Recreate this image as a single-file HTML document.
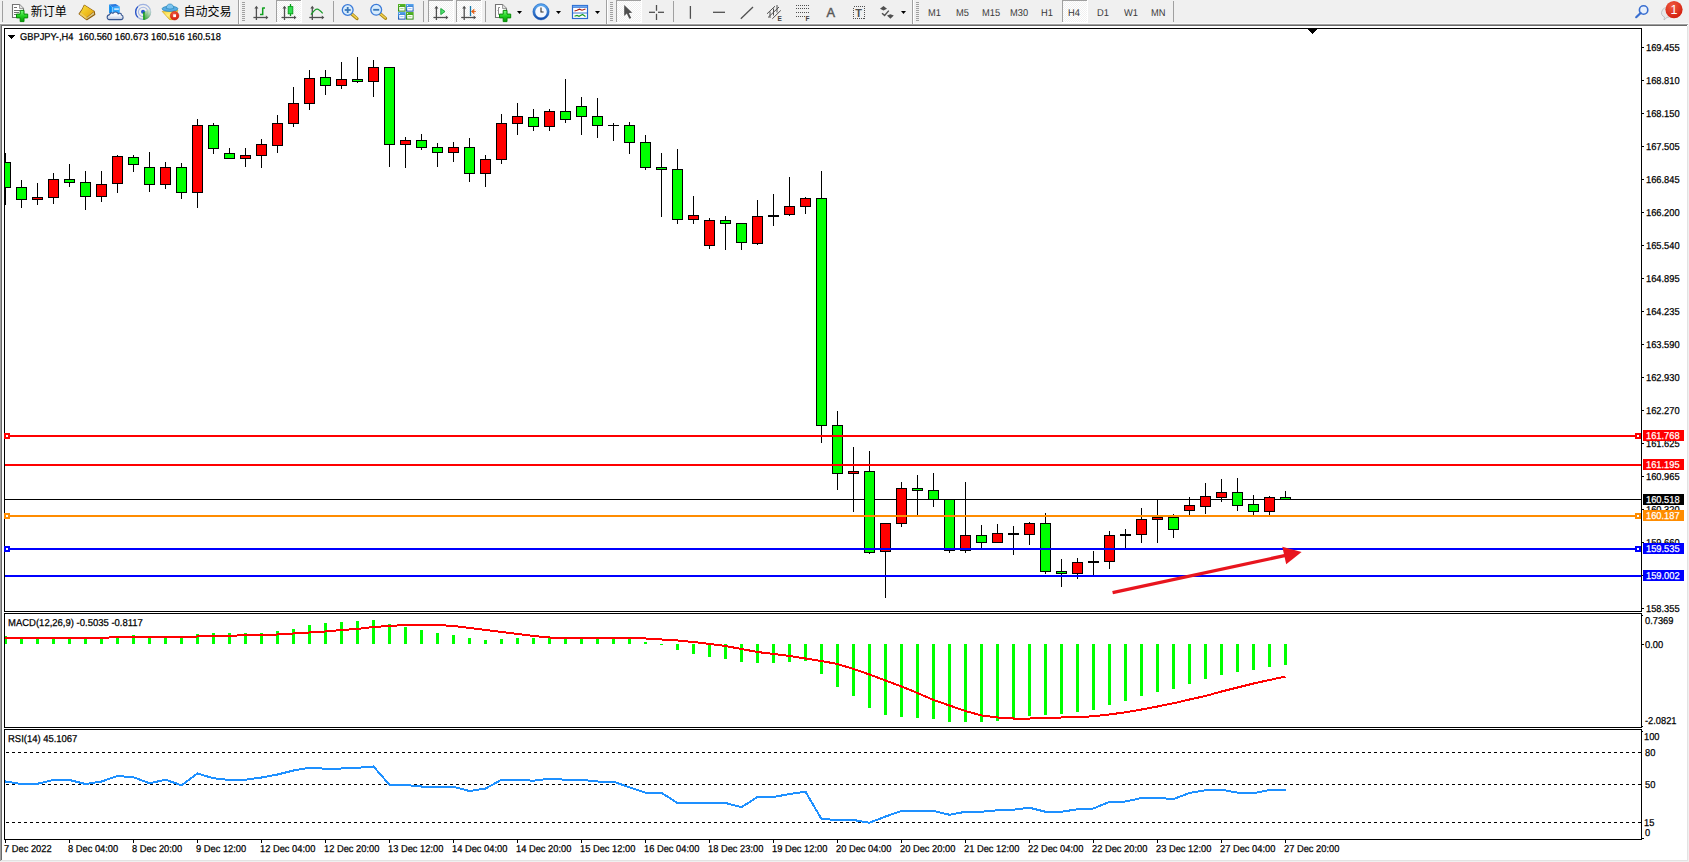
<!DOCTYPE html>
<html><head><meta charset="utf-8"><title>GBPJPY H4</title>
<style>
html,body{margin:0;padding:0;}
body{width:1689px;height:862px;background:#f0f0f0;position:relative;overflow:hidden;font-family:"Liberation Sans","Noto Sans CJK SC",sans-serif;}
.t{position:absolute;white-space:pre;line-height:12px;height:12px;transform-origin:0 0;}
.g{text-rendering:geometricPrecision;}
.c{text-rendering:geometricPrecision;-webkit-text-stroke:0.25px currentColor;}
#win{position:absolute;left:0;top:24px;width:1688px;height:837px;background:#fff;}
#chart{position:absolute;left:0;top:0;}
.z2{z-index:2}
</style></head><body>
<div id="win"></div>
<div style="position:absolute;left:0;top:23px;width:1689px;height:1px;background:#f9f9f9"></div>
<div style="position:absolute;left:0;top:24px;width:1688px;height:1px;background:#a0a0a0"></div>
<div style="position:absolute;left:0;top:25px;width:1687px;height:1px;background:#696969"></div>
<div style="position:absolute;left:0;top:24px;width:1px;height:838px;background:#a0a0a0"></div>
<div style="position:absolute;left:1px;top:25px;width:1px;height:836px;background:#696969"></div>
<div style="position:absolute;left:1687px;top:26px;width:1px;height:835px;background:#e3e3e3"></div>
<div style="position:absolute;left:1688px;top:24px;width:1px;height:838px;background:#f0f0f0"></div>
<div style="position:absolute;left:1px;top:860px;width:1687px;height:1px;background:#e3e3e3"></div>
<div style="position:absolute;left:0px;top:861px;width:1689px;height:1px;background:#f0f0f0"></div>
<div class="t c" style="left:20px;top:31.84px;font-size:10px;color:#000;transform:scaleX(0.93);">GBPJPY-,H4&nbsp; 160.560 160.673 160.516 160.518</div>
<div class="t c" style="left:1646.3px;top:42.83px;font-size:10px;color:#000;transform:scaleX(0.93);">169.455</div>
<div class="t c" style="left:1646.3px;top:75.83px;font-size:10px;color:#000;transform:scaleX(0.93);">168.810</div>
<div class="t c" style="left:1646.3px;top:108.83px;font-size:10px;color:#000;transform:scaleX(0.93);">168.150</div>
<div class="t c" style="left:1646.3px;top:141.84px;font-size:10px;color:#000;transform:scaleX(0.93);">167.505</div>
<div class="t c" style="left:1646.3px;top:174.84px;font-size:10px;color:#000;transform:scaleX(0.93);">166.845</div>
<div class="t c" style="left:1646.3px;top:207.84px;font-size:10px;color:#000;transform:scaleX(0.93);">166.200</div>
<div class="t c" style="left:1646.3px;top:240.84px;font-size:10px;color:#000;transform:scaleX(0.93);">165.540</div>
<div class="t c" style="left:1646.3px;top:273.84px;font-size:10px;color:#000;transform:scaleX(0.93);">164.895</div>
<div class="t c" style="left:1646.3px;top:306.84px;font-size:10px;color:#000;transform:scaleX(0.93);">164.235</div>
<div class="t c" style="left:1646.3px;top:339.84px;font-size:10px;color:#000;transform:scaleX(0.93);">163.590</div>
<div class="t c" style="left:1646.3px;top:372.84px;font-size:10px;color:#000;transform:scaleX(0.93);">162.930</div>
<div class="t c" style="left:1646.3px;top:405.84px;font-size:10px;color:#000;transform:scaleX(0.93);">162.270</div>
<div class="t c" style="left:1646.3px;top:438.84px;font-size:10px;color:#000;transform:scaleX(0.93);">161.625</div>
<div class="t c" style="left:1646.3px;top:471.84px;font-size:10px;color:#000;transform:scaleX(0.93);">160.965</div>
<div class="t c" style="left:1646.3px;top:504.84px;font-size:10px;color:#000;transform:scaleX(0.93);">160.320</div>
<div class="t c" style="left:1646.3px;top:537.83px;font-size:10px;color:#000;transform:scaleX(0.93);">159.660</div>
<div class="t c" style="left:1646.3px;top:570.83px;font-size:10px;color:#000;transform:scaleX(0.93);">159.015</div>
<div class="t c" style="left:1646.3px;top:603.83px;font-size:10px;color:#000;transform:scaleX(0.93);">158.355</div>
<div class="t c" style="left:8.4px;top:617.83px;font-size:10px;color:#000;transform:scaleX(0.949);">MACD(12,26,9) -0.5035 -0.8117</div>
<div class="t c" style="left:8.4px;top:733.83px;font-size:10px;color:#000;transform:scaleX(0.945);">RSI(14) 45.1067</div>
<div class="t c" style="left:1644.6px;top:615.83px;font-size:10px;color:#000;transform:scaleX(0.93);">0.7369</div>
<div class="t c" style="left:1644.6px;top:639.83px;font-size:10px;color:#000;transform:scaleX(0.93);">0.00</div>
<div class="t c" style="left:1644.6px;top:715.83px;font-size:10px;color:#000;transform:scaleX(0.93);">-2.0821</div>
<div class="t c" style="left:1644.2px;top:731.83px;font-size:10px;color:#000;transform:scaleX(0.93);">100</div>
<div class="t c" style="left:1644.6px;top:747.83px;font-size:10px;color:#000;transform:scaleX(0.93);">80</div>
<div class="t c" style="left:1644.6px;top:779.83px;font-size:10px;color:#000;transform:scaleX(0.93);">50</div>
<div class="t c" style="left:1644.2px;top:817.83px;font-size:10px;color:#000;transform:scaleX(0.93);">15</div>
<div class="t c" style="left:1644.6px;top:827.83px;font-size:10px;color:#000;transform:scaleX(0.93);">0</div>
<div class="t c" style="left:4px;top:843.83px;font-size:10px;color:#000;transform:scaleX(0.93);">7 Dec 2022</div>
<div class="t c" style="left:68px;top:843.83px;font-size:10px;color:#000;transform:scaleX(0.93);">8 Dec 04:00</div>
<div class="t c" style="left:132px;top:843.83px;font-size:10px;color:#000;transform:scaleX(0.93);">8 Dec 20:00</div>
<div class="t c" style="left:196px;top:843.83px;font-size:10px;color:#000;transform:scaleX(0.93);">9 Dec 12:00</div>
<div class="t c" style="left:260px;top:843.83px;font-size:10px;color:#000;transform:scaleX(0.93);">12 Dec 04:00</div>
<div class="t c" style="left:324px;top:843.83px;font-size:10px;color:#000;transform:scaleX(0.93);">12 Dec 20:00</div>
<div class="t c" style="left:388px;top:843.83px;font-size:10px;color:#000;transform:scaleX(0.93);">13 Dec 12:00</div>
<div class="t c" style="left:452px;top:843.83px;font-size:10px;color:#000;transform:scaleX(0.93);">14 Dec 04:00</div>
<div class="t c" style="left:516px;top:843.83px;font-size:10px;color:#000;transform:scaleX(0.93);">14 Dec 20:00</div>
<div class="t c" style="left:580px;top:843.83px;font-size:10px;color:#000;transform:scaleX(0.93);">15 Dec 12:00</div>
<div class="t c" style="left:644px;top:843.83px;font-size:10px;color:#000;transform:scaleX(0.93);">16 Dec 04:00</div>
<div class="t c" style="left:708px;top:843.83px;font-size:10px;color:#000;transform:scaleX(0.93);">18 Dec 23:00</div>
<div class="t c" style="left:772px;top:843.83px;font-size:10px;color:#000;transform:scaleX(0.93);">19 Dec 12:00</div>
<div class="t c" style="left:836px;top:843.83px;font-size:10px;color:#000;transform:scaleX(0.93);">20 Dec 04:00</div>
<div class="t c" style="left:900px;top:843.83px;font-size:10px;color:#000;transform:scaleX(0.93);">20 Dec 20:00</div>
<div class="t c" style="left:964px;top:843.83px;font-size:10px;color:#000;transform:scaleX(0.93);">21 Dec 12:00</div>
<div class="t c" style="left:1028px;top:843.83px;font-size:10px;color:#000;transform:scaleX(0.93);">22 Dec 04:00</div>
<div class="t c" style="left:1092px;top:843.83px;font-size:10px;color:#000;transform:scaleX(0.93);">22 Dec 20:00</div>
<div class="t c" style="left:1156px;top:843.83px;font-size:10px;color:#000;transform:scaleX(0.93);">23 Dec 12:00</div>
<div class="t c" style="left:1220px;top:843.83px;font-size:10px;color:#000;transform:scaleX(0.93);">27 Dec 04:00</div>
<div class="t c" style="left:1284px;top:843.83px;font-size:10px;color:#000;transform:scaleX(0.93);">27 Dec 20:00</div>
<svg id="chart" width="1689" height="862" viewBox="0 0 1689 862" shape-rendering="crispEdges">
<rect x="4" y="28" width="1638" height="1" fill="#000"/>
<rect x="4" y="611" width="1638" height="1" fill="#000"/>
<rect x="4" y="28" width="1" height="584" fill="#000"/>
<rect x="1641" y="28" width="1" height="584" fill="#000"/>
<rect x="4" y="613" width="1638" height="1" fill="#000"/>
<rect x="4" y="727" width="1638" height="1" fill="#000"/>
<rect x="4" y="613" width="1" height="115" fill="#000"/>
<rect x="1641" y="613" width="1" height="115" fill="#000"/>
<rect x="4" y="729" width="1638" height="1" fill="#000"/>
<rect x="4" y="839" width="1638" height="1" fill="#000"/>
<rect x="4" y="729" width="1" height="111" fill="#000"/>
<rect x="1641" y="729" width="1" height="111" fill="#000"/>
<polygon points="1307.5,29 1317.5,29 1312.5,34" fill="#000"/>
<polygon points="7.5,35 15.5,35 11.5,39" fill="#000"/>
<clipPath id="cm"><rect x="5" y="29" width="1636" height="582"/></clipPath>
<rect x="5" y="499" width="1636" height="1" fill="#000"/>
<g clip-path="url(#cm)">
<rect x="5" y="153" width="1" height="52" fill="#000"/>
<rect x="0" y="162" width="11" height="26" fill="#000"/>
<rect x="1" y="163" width="9" height="24" fill="#00ff00"/>
<rect x="21" y="180" width="1" height="28" fill="#000"/>
<rect x="16" y="187" width="11" height="13" fill="#000"/>
<rect x="17" y="188" width="9" height="11" fill="#00ff00"/>
<rect x="37" y="183" width="1" height="22" fill="#000"/>
<rect x="32" y="197" width="11" height="3" fill="#000"/>
<rect x="33" y="198" width="9" height="1" fill="#ff0000"/>
<rect x="53" y="173" width="1" height="31" fill="#000"/>
<rect x="48" y="179" width="11" height="19" fill="#000"/>
<rect x="49" y="180" width="9" height="17" fill="#ff0000"/>
<rect x="69" y="164" width="1" height="23" fill="#000"/>
<rect x="64" y="179" width="11" height="4" fill="#000"/>
<rect x="65" y="180" width="9" height="2" fill="#00ff00"/>
<rect x="85" y="171" width="1" height="39" fill="#000"/>
<rect x="80" y="182" width="11" height="15" fill="#000"/>
<rect x="81" y="183" width="9" height="13" fill="#00ff00"/>
<rect x="101" y="171" width="1" height="31" fill="#000"/>
<rect x="96" y="184" width="11" height="13" fill="#000"/>
<rect x="97" y="185" width="9" height="11" fill="#ff0000"/>
<rect x="117" y="155" width="1" height="38" fill="#000"/>
<rect x="112" y="156" width="11" height="28" fill="#000"/>
<rect x="113" y="157" width="9" height="26" fill="#ff0000"/>
<rect x="133" y="155" width="1" height="17" fill="#000"/>
<rect x="128" y="157" width="11" height="8" fill="#000"/>
<rect x="129" y="158" width="9" height="6" fill="#00ff00"/>
<rect x="149" y="152" width="1" height="40" fill="#000"/>
<rect x="144" y="167" width="11" height="18" fill="#000"/>
<rect x="145" y="168" width="9" height="16" fill="#00ff00"/>
<rect x="165" y="162" width="1" height="27" fill="#000"/>
<rect x="160" y="167" width="11" height="18" fill="#000"/>
<rect x="161" y="168" width="9" height="16" fill="#ff0000"/>
<rect x="181" y="163" width="1" height="36" fill="#000"/>
<rect x="176" y="167" width="11" height="26" fill="#000"/>
<rect x="177" y="168" width="9" height="24" fill="#00ff00"/>
<rect x="197" y="119" width="1" height="89" fill="#000"/>
<rect x="192" y="125" width="11" height="68" fill="#000"/>
<rect x="193" y="126" width="9" height="66" fill="#ff0000"/>
<rect x="213" y="123" width="1" height="31" fill="#000"/>
<rect x="208" y="125" width="11" height="24" fill="#000"/>
<rect x="209" y="126" width="9" height="22" fill="#00ff00"/>
<rect x="229" y="148" width="1" height="11" fill="#000"/>
<rect x="224" y="153" width="11" height="6" fill="#000"/>
<rect x="225" y="154" width="9" height="4" fill="#00ff00"/>
<rect x="245" y="148" width="1" height="19" fill="#000"/>
<rect x="240" y="155" width="11" height="4" fill="#000"/>
<rect x="241" y="156" width="9" height="2" fill="#ff0000"/>
<rect x="261" y="139" width="1" height="29" fill="#000"/>
<rect x="256" y="144" width="11" height="12" fill="#000"/>
<rect x="257" y="145" width="9" height="10" fill="#ff0000"/>
<rect x="277" y="115" width="1" height="38" fill="#000"/>
<rect x="272" y="123" width="11" height="23" fill="#000"/>
<rect x="273" y="124" width="9" height="21" fill="#ff0000"/>
<rect x="293" y="87" width="1" height="40" fill="#000"/>
<rect x="288" y="103" width="11" height="21" fill="#000"/>
<rect x="289" y="104" width="9" height="19" fill="#ff0000"/>
<rect x="309" y="70" width="1" height="40" fill="#000"/>
<rect x="304" y="78" width="11" height="26" fill="#000"/>
<rect x="305" y="79" width="9" height="24" fill="#ff0000"/>
<rect x="325" y="70" width="1" height="25" fill="#000"/>
<rect x="320" y="77" width="11" height="9" fill="#000"/>
<rect x="321" y="78" width="9" height="7" fill="#00ff00"/>
<rect x="341" y="62" width="1" height="27" fill="#000"/>
<rect x="336" y="79" width="11" height="7" fill="#000"/>
<rect x="337" y="80" width="9" height="5" fill="#ff0000"/>
<rect x="357" y="57" width="1" height="26" fill="#000"/>
<rect x="352" y="79" width="11" height="3" fill="#000"/>
<rect x="353" y="80" width="9" height="1" fill="#00ff00"/>
<rect x="373" y="60" width="1" height="37" fill="#000"/>
<rect x="368" y="67" width="11" height="15" fill="#000"/>
<rect x="369" y="68" width="9" height="13" fill="#ff0000"/>
<rect x="389" y="67" width="1" height="100" fill="#000"/>
<rect x="384" y="67" width="11" height="78" fill="#000"/>
<rect x="385" y="68" width="9" height="76" fill="#00ff00"/>
<rect x="405" y="137" width="1" height="31" fill="#000"/>
<rect x="400" y="140" width="11" height="5" fill="#000"/>
<rect x="401" y="141" width="9" height="3" fill="#ff0000"/>
<rect x="421" y="134" width="1" height="16" fill="#000"/>
<rect x="416" y="140" width="11" height="8" fill="#000"/>
<rect x="417" y="141" width="9" height="6" fill="#00ff00"/>
<rect x="437" y="143" width="1" height="24" fill="#000"/>
<rect x="432" y="147" width="11" height="6" fill="#000"/>
<rect x="433" y="148" width="9" height="4" fill="#00ff00"/>
<rect x="453" y="142" width="1" height="20" fill="#000"/>
<rect x="448" y="147" width="11" height="6" fill="#000"/>
<rect x="449" y="148" width="9" height="4" fill="#ff0000"/>
<rect x="469" y="138" width="1" height="44" fill="#000"/>
<rect x="464" y="147" width="11" height="27" fill="#000"/>
<rect x="465" y="148" width="9" height="25" fill="#00ff00"/>
<rect x="485" y="155" width="1" height="32" fill="#000"/>
<rect x="480" y="159" width="11" height="15" fill="#000"/>
<rect x="481" y="160" width="9" height="13" fill="#ff0000"/>
<rect x="501" y="114" width="1" height="50" fill="#000"/>
<rect x="496" y="123" width="11" height="37" fill="#000"/>
<rect x="497" y="124" width="9" height="35" fill="#ff0000"/>
<rect x="517" y="103" width="1" height="32" fill="#000"/>
<rect x="512" y="116" width="11" height="8" fill="#000"/>
<rect x="513" y="117" width="9" height="6" fill="#ff0000"/>
<rect x="533" y="109" width="1" height="22" fill="#000"/>
<rect x="528" y="117" width="11" height="10" fill="#000"/>
<rect x="529" y="118" width="9" height="8" fill="#00ff00"/>
<rect x="549" y="109" width="1" height="22" fill="#000"/>
<rect x="544" y="111" width="11" height="16" fill="#000"/>
<rect x="545" y="112" width="9" height="14" fill="#ff0000"/>
<rect x="565" y="79" width="1" height="44" fill="#000"/>
<rect x="560" y="111" width="11" height="9" fill="#000"/>
<rect x="561" y="112" width="9" height="7" fill="#00ff00"/>
<rect x="581" y="97" width="1" height="38" fill="#000"/>
<rect x="576" y="106" width="11" height="11" fill="#000"/>
<rect x="577" y="107" width="9" height="9" fill="#00ff00"/>
<rect x="597" y="98" width="1" height="40" fill="#000"/>
<rect x="592" y="116" width="11" height="10" fill="#000"/>
<rect x="593" y="117" width="9" height="8" fill="#00ff00"/>
<rect x="613" y="123" width="1" height="18" fill="#000"/>
<rect x="608" y="125" width="11" height="1" fill="#000"/>
<rect x="629" y="122" width="1" height="32" fill="#000"/>
<rect x="624" y="125" width="11" height="18" fill="#000"/>
<rect x="625" y="126" width="9" height="16" fill="#00ff00"/>
<rect x="645" y="135" width="1" height="35" fill="#000"/>
<rect x="640" y="142" width="11" height="26" fill="#000"/>
<rect x="641" y="143" width="9" height="24" fill="#00ff00"/>
<rect x="661" y="153" width="1" height="64" fill="#000"/>
<rect x="656" y="167" width="11" height="3" fill="#000"/>
<rect x="657" y="168" width="9" height="1" fill="#00ff00"/>
<rect x="677" y="149" width="1" height="75" fill="#000"/>
<rect x="672" y="169" width="11" height="51" fill="#000"/>
<rect x="673" y="170" width="9" height="49" fill="#00ff00"/>
<rect x="693" y="196" width="1" height="28" fill="#000"/>
<rect x="688" y="215" width="11" height="5" fill="#000"/>
<rect x="689" y="216" width="9" height="3" fill="#ff0000"/>
<rect x="709" y="218" width="1" height="31" fill="#000"/>
<rect x="704" y="220" width="11" height="26" fill="#000"/>
<rect x="705" y="221" width="9" height="24" fill="#ff0000"/>
<rect x="725" y="216" width="1" height="34" fill="#000"/>
<rect x="720" y="220" width="11" height="4" fill="#000"/>
<rect x="721" y="221" width="9" height="2" fill="#00ff00"/>
<rect x="741" y="223" width="1" height="27" fill="#000"/>
<rect x="736" y="223" width="11" height="20" fill="#000"/>
<rect x="737" y="224" width="9" height="18" fill="#00ff00"/>
<rect x="757" y="200" width="1" height="45" fill="#000"/>
<rect x="752" y="216" width="11" height="28" fill="#000"/>
<rect x="753" y="217" width="9" height="26" fill="#ff0000"/>
<rect x="773" y="194" width="1" height="32" fill="#000"/>
<rect x="768" y="215" width="11" height="2" fill="#000"/>
<rect x="789" y="177" width="1" height="39" fill="#000"/>
<rect x="784" y="206" width="11" height="9" fill="#000"/>
<rect x="785" y="207" width="9" height="7" fill="#ff0000"/>
<rect x="805" y="197" width="1" height="17" fill="#000"/>
<rect x="800" y="198" width="11" height="9" fill="#000"/>
<rect x="801" y="199" width="9" height="7" fill="#ff0000"/>
<rect x="821" y="171" width="1" height="272" fill="#000"/>
<rect x="816" y="198" width="11" height="228" fill="#000"/>
<rect x="817" y="199" width="9" height="226" fill="#00ff00"/>
<rect x="837" y="411" width="1" height="79" fill="#000"/>
<rect x="832" y="425" width="11" height="49" fill="#000"/>
<rect x="833" y="426" width="9" height="47" fill="#00ff00"/>
<rect x="853" y="447" width="1" height="65" fill="#000"/>
<rect x="848" y="471" width="11" height="3" fill="#000"/>
<rect x="849" y="472" width="9" height="1" fill="#ff0000"/>
<rect x="869" y="451" width="1" height="103" fill="#000"/>
<rect x="864" y="471" width="11" height="82" fill="#000"/>
<rect x="865" y="472" width="9" height="80" fill="#00ff00"/>
<rect x="885" y="523" width="1" height="75" fill="#000"/>
<rect x="880" y="523" width="11" height="29" fill="#000"/>
<rect x="881" y="524" width="9" height="27" fill="#ff0000"/>
<rect x="901" y="482" width="1" height="45" fill="#000"/>
<rect x="896" y="488" width="11" height="36" fill="#000"/>
<rect x="897" y="489" width="9" height="34" fill="#ff0000"/>
<rect x="917" y="475" width="1" height="40" fill="#000"/>
<rect x="912" y="488" width="11" height="3" fill="#000"/>
<rect x="913" y="489" width="9" height="1" fill="#00ff00"/>
<rect x="933" y="473" width="1" height="34" fill="#000"/>
<rect x="928" y="490" width="11" height="10" fill="#000"/>
<rect x="929" y="491" width="9" height="8" fill="#00ff00"/>
<rect x="949" y="499" width="1" height="54" fill="#000"/>
<rect x="944" y="499" width="11" height="52" fill="#000"/>
<rect x="945" y="500" width="9" height="50" fill="#00ff00"/>
<rect x="965" y="482" width="1" height="71" fill="#000"/>
<rect x="960" y="535" width="11" height="16" fill="#000"/>
<rect x="961" y="536" width="9" height="14" fill="#ff0000"/>
<rect x="981" y="525" width="1" height="23" fill="#000"/>
<rect x="976" y="535" width="11" height="8" fill="#000"/>
<rect x="977" y="536" width="9" height="6" fill="#00ff00"/>
<rect x="997" y="524" width="1" height="19" fill="#000"/>
<rect x="992" y="533" width="11" height="10" fill="#000"/>
<rect x="993" y="534" width="9" height="8" fill="#ff0000"/>
<rect x="1013" y="526" width="1" height="29" fill="#000"/>
<rect x="1008" y="533" width="11" height="2" fill="#000"/>
<rect x="1029" y="522" width="1" height="23" fill="#000"/>
<rect x="1024" y="523" width="11" height="12" fill="#000"/>
<rect x="1025" y="524" width="9" height="10" fill="#ff0000"/>
<rect x="1045" y="513" width="1" height="61" fill="#000"/>
<rect x="1040" y="523" width="11" height="49" fill="#000"/>
<rect x="1041" y="524" width="9" height="47" fill="#00ff00"/>
<rect x="1061" y="559" width="1" height="28" fill="#000"/>
<rect x="1056" y="571" width="11" height="3" fill="#000"/>
<rect x="1057" y="572" width="9" height="1" fill="#00ff00"/>
<rect x="1077" y="558" width="1" height="21" fill="#000"/>
<rect x="1072" y="562" width="11" height="12" fill="#000"/>
<rect x="1073" y="563" width="9" height="10" fill="#ff0000"/>
<rect x="1093" y="551" width="1" height="24" fill="#000"/>
<rect x="1088" y="561" width="11" height="2" fill="#000"/>
<rect x="1109" y="531" width="1" height="38" fill="#000"/>
<rect x="1104" y="535" width="11" height="27" fill="#000"/>
<rect x="1105" y="536" width="9" height="25" fill="#ff0000"/>
<rect x="1125" y="529" width="1" height="19" fill="#000"/>
<rect x="1120" y="534" width="11" height="2" fill="#000"/>
<rect x="1141" y="508" width="1" height="35" fill="#000"/>
<rect x="1136" y="519" width="11" height="16" fill="#000"/>
<rect x="1137" y="520" width="9" height="14" fill="#ff0000"/>
<rect x="1157" y="499" width="1" height="44" fill="#000"/>
<rect x="1152" y="517" width="11" height="3" fill="#000"/>
<rect x="1153" y="518" width="9" height="1" fill="#ff0000"/>
<rect x="1173" y="514" width="1" height="24" fill="#000"/>
<rect x="1168" y="517" width="11" height="13" fill="#000"/>
<rect x="1169" y="518" width="9" height="11" fill="#00ff00"/>
<rect x="1189" y="497" width="1" height="18" fill="#000"/>
<rect x="1184" y="505" width="11" height="6" fill="#000"/>
<rect x="1185" y="506" width="9" height="4" fill="#ff0000"/>
<rect x="1205" y="483" width="1" height="31" fill="#000"/>
<rect x="1200" y="496" width="11" height="11" fill="#000"/>
<rect x="1201" y="497" width="9" height="9" fill="#ff0000"/>
<rect x="1221" y="479" width="1" height="23" fill="#000"/>
<rect x="1216" y="492" width="11" height="6" fill="#000"/>
<rect x="1217" y="493" width="9" height="4" fill="#ff0000"/>
<rect x="1237" y="478" width="1" height="33" fill="#000"/>
<rect x="1232" y="492" width="11" height="14" fill="#000"/>
<rect x="1233" y="493" width="9" height="12" fill="#00ff00"/>
<rect x="1253" y="495" width="1" height="20" fill="#000"/>
<rect x="1248" y="504" width="11" height="8" fill="#000"/>
<rect x="1249" y="505" width="9" height="6" fill="#00ff00"/>
<rect x="1269" y="496" width="1" height="19" fill="#000"/>
<rect x="1264" y="497" width="11" height="15" fill="#000"/>
<rect x="1265" y="498" width="9" height="13" fill="#ff0000"/>
<rect x="1285" y="491" width="1" height="9" fill="#000"/>
<rect x="1280" y="497" width="11" height="3" fill="#000"/>
<rect x="1281" y="498" width="9" height="1" fill="#00ff00"/>
</g>
<rect x="5" y="435" width="1636" height="2" fill="#ff0000"/>
<rect x="4" y="433" width="6" height="6" fill="#ff0000"/><rect x="6" y="435" width="2" height="2" fill="#fff"/>
<rect x="1635" y="433" width="6" height="6" fill="#ff0000"/><rect x="1637" y="435" width="2" height="2" fill="#fff"/>
<rect x="5" y="464" width="1636" height="2" fill="#ff0000"/>
<rect x="5" y="515" width="1636" height="2" fill="#ff8c00"/>
<rect x="4" y="513" width="6" height="6" fill="#ff8c00"/><rect x="6" y="515" width="2" height="2" fill="#fff"/>
<rect x="1635" y="513" width="6" height="6" fill="#ff8c00"/><rect x="1637" y="515" width="2" height="2" fill="#fff"/>
<rect x="5" y="548" width="1636" height="2" fill="#0000ff"/>
<rect x="4" y="546" width="6" height="6" fill="#0000ff"/><rect x="6" y="548" width="2" height="2" fill="#fff"/>
<rect x="1635" y="546" width="6" height="6" fill="#0000ff"/><rect x="1637" y="548" width="2" height="2" fill="#fff"/>
<rect x="5" y="575" width="1636" height="2" fill="#0000ff"/>
<g shape-rendering="auto"><line x1="1112.6" y1="592.6" x2="1288" y2="554.9" stroke="#e8151e" stroke-width="3.3"/><polygon points="1301.6,552 1282.3,546.8 1286.2,564.3" fill="#e8151e"/></g>
<rect x="1642" y="47" width="2" height="1" fill="#000"/>
<rect x="1642" y="80" width="2" height="1" fill="#000"/>
<rect x="1642" y="113" width="2" height="1" fill="#000"/>
<rect x="1642" y="146" width="2" height="1" fill="#000"/>
<rect x="1642" y="179" width="2" height="1" fill="#000"/>
<rect x="1642" y="212" width="2" height="1" fill="#000"/>
<rect x="1642" y="245" width="2" height="1" fill="#000"/>
<rect x="1642" y="278" width="2" height="1" fill="#000"/>
<rect x="1642" y="311" width="2" height="1" fill="#000"/>
<rect x="1642" y="344" width="2" height="1" fill="#000"/>
<rect x="1642" y="377" width="2" height="1" fill="#000"/>
<rect x="1642" y="410" width="2" height="1" fill="#000"/>
<rect x="1642" y="443" width="2" height="1" fill="#000"/>
<rect x="1642" y="476" width="2" height="1" fill="#000"/>
<rect x="1642" y="509" width="2" height="1" fill="#000"/>
<rect x="1642" y="542" width="2" height="1" fill="#000"/>
<rect x="1642" y="575" width="2" height="1" fill="#000"/>
<rect x="1642" y="608" width="2" height="1" fill="#000"/>
<rect x="5" y="636" width="2" height="8" fill="#00ff00"/>
<rect x="20" y="638" width="3" height="6" fill="#00ff00"/>
<rect x="36" y="638" width="3" height="6" fill="#00ff00"/>
<rect x="52" y="638" width="3" height="6" fill="#00ff00"/>
<rect x="68" y="638" width="3" height="6" fill="#00ff00"/>
<rect x="84" y="638" width="3" height="6" fill="#00ff00"/>
<rect x="100" y="637" width="3" height="7" fill="#00ff00"/>
<rect x="116" y="637" width="3" height="7" fill="#00ff00"/>
<rect x="132" y="635" width="3" height="9" fill="#00ff00"/>
<rect x="148" y="637" width="3" height="7" fill="#00ff00"/>
<rect x="164" y="637" width="3" height="7" fill="#00ff00"/>
<rect x="180" y="637" width="3" height="7" fill="#00ff00"/>
<rect x="196" y="634" width="3" height="10" fill="#00ff00"/>
<rect x="212" y="633" width="3" height="11" fill="#00ff00"/>
<rect x="228" y="633" width="3" height="11" fill="#00ff00"/>
<rect x="244" y="633" width="3" height="11" fill="#00ff00"/>
<rect x="260" y="633" width="3" height="11" fill="#00ff00"/>
<rect x="276" y="631" width="3" height="13" fill="#00ff00"/>
<rect x="292" y="629" width="3" height="15" fill="#00ff00"/>
<rect x="308" y="625" width="3" height="19" fill="#00ff00"/>
<rect x="324" y="623" width="3" height="21" fill="#00ff00"/>
<rect x="340" y="622" width="3" height="22" fill="#00ff00"/>
<rect x="356" y="621" width="3" height="23" fill="#00ff00"/>
<rect x="372" y="620" width="3" height="24" fill="#00ff00"/>
<rect x="388" y="624" width="3" height="20" fill="#00ff00"/>
<rect x="404" y="627" width="3" height="17" fill="#00ff00"/>
<rect x="420" y="630" width="3" height="14" fill="#00ff00"/>
<rect x="436" y="633" width="3" height="11" fill="#00ff00"/>
<rect x="452" y="635" width="3" height="9" fill="#00ff00"/>
<rect x="468" y="638" width="3" height="6" fill="#00ff00"/>
<rect x="484" y="640" width="3" height="4" fill="#00ff00"/>
<rect x="500" y="639" width="3" height="5" fill="#00ff00"/>
<rect x="516" y="638" width="3" height="6" fill="#00ff00"/>
<rect x="532" y="638" width="3" height="6" fill="#00ff00"/>
<rect x="548" y="638" width="3" height="6" fill="#00ff00"/>
<rect x="564" y="638" width="3" height="6" fill="#00ff00"/>
<rect x="580" y="638" width="3" height="6" fill="#00ff00"/>
<rect x="596" y="638" width="3" height="6" fill="#00ff00"/>
<rect x="612" y="638" width="3" height="6" fill="#00ff00"/>
<rect x="628" y="638" width="3" height="6" fill="#00ff00"/>
<rect x="644" y="642" width="3" height="2" fill="#00ff00"/>
<rect x="660" y="644" width="3" height="1" fill="#00ff00"/>
<rect x="676" y="644" width="3" height="6" fill="#00ff00"/>
<rect x="692" y="644" width="3" height="10" fill="#00ff00"/>
<rect x="708" y="644" width="3" height="13" fill="#00ff00"/>
<rect x="724" y="644" width="3" height="15" fill="#00ff00"/>
<rect x="740" y="644" width="3" height="18" fill="#00ff00"/>
<rect x="756" y="644" width="3" height="19" fill="#00ff00"/>
<rect x="772" y="644" width="3" height="19" fill="#00ff00"/>
<rect x="788" y="644" width="3" height="18" fill="#00ff00"/>
<rect x="804" y="644" width="3" height="17" fill="#00ff00"/>
<rect x="820" y="644" width="3" height="30" fill="#00ff00"/>
<rect x="836" y="644" width="3" height="43" fill="#00ff00"/>
<rect x="852" y="644" width="3" height="52" fill="#00ff00"/>
<rect x="868" y="644" width="3" height="64" fill="#00ff00"/>
<rect x="884" y="644" width="3" height="71" fill="#00ff00"/>
<rect x="900" y="644" width="3" height="73" fill="#00ff00"/>
<rect x="916" y="644" width="3" height="74" fill="#00ff00"/>
<rect x="932" y="644" width="3" height="75" fill="#00ff00"/>
<rect x="948" y="644" width="3" height="78" fill="#00ff00"/>
<rect x="964" y="644" width="3" height="78" fill="#00ff00"/>
<rect x="980" y="644" width="3" height="78" fill="#00ff00"/>
<rect x="996" y="644" width="3" height="77" fill="#00ff00"/>
<rect x="1012" y="644" width="3" height="75" fill="#00ff00"/>
<rect x="1028" y="644" width="3" height="72" fill="#00ff00"/>
<rect x="1044" y="644" width="3" height="71" fill="#00ff00"/>
<rect x="1060" y="644" width="3" height="70" fill="#00ff00"/>
<rect x="1076" y="644" width="3" height="68" fill="#00ff00"/>
<rect x="1092" y="644" width="3" height="66" fill="#00ff00"/>
<rect x="1108" y="644" width="3" height="61" fill="#00ff00"/>
<rect x="1124" y="644" width="3" height="57" fill="#00ff00"/>
<rect x="1140" y="644" width="3" height="52" fill="#00ff00"/>
<rect x="1156" y="644" width="3" height="48" fill="#00ff00"/>
<rect x="1172" y="644" width="3" height="45" fill="#00ff00"/>
<rect x="1188" y="644" width="3" height="40" fill="#00ff00"/>
<rect x="1204" y="644" width="3" height="35" fill="#00ff00"/>
<rect x="1220" y="644" width="3" height="31" fill="#00ff00"/>
<rect x="1236" y="644" width="3" height="28" fill="#00ff00"/>
<rect x="1252" y="644" width="3" height="26" fill="#00ff00"/>
<rect x="1268" y="644" width="3" height="23" fill="#00ff00"/>
<rect x="1284" y="644" width="3" height="21" fill="#00ff00"/>
<polyline points="5,638 5.5,638 21.5,638 37.5,638 53.5,638 69.5,638 85.5,638 101.5,638 117.5,637 133.5,637 149.5,637 165.5,637 181.5,637 197.5,636.5 213.5,636 229.5,636 245.5,635 261.5,635 277.5,634.5 293.5,633.5 309.5,632.5 325.5,631.5 341.5,630 357.5,629 373.5,627 389.5,626 405.5,625 421.5,625 437.5,625 453.5,626 469.5,628 485.5,630 501.5,632 517.5,634 533.5,636 549.5,637.5 565.5,638 581.5,638 597.5,638 613.5,638 629.5,638 645.5,638.5 661.5,639.5 677.5,640.5 693.5,642 709.5,644 725.5,646 741.5,649 757.5,652 773.5,654 789.5,656 805.5,658.5 821.5,661 837.5,664 853.5,669 869.5,674.5 885.5,680.5 901.5,686.5 917.5,693 933.5,700 949.5,705.5 965.5,711 981.5,715.5 997.5,717.5 1013.5,718.5 1029.5,718.5 1045.5,718.25 1061.5,717.5 1077.5,717.25 1093.5,716.25 1109.5,714.5 1125.5,712.25 1141.5,709.5 1157.5,706.5 1173.5,703.25 1189.5,699.5 1205.5,696 1221.5,691.5 1237.5,687.5 1253.5,683.5 1269.5,680 1285.5,676.5" fill="none" stroke="#ff0000" stroke-width="2" shape-rendering="crispEdges"/>
<rect x="1642" y="644" width="2" height="1" fill="#000"/>
<rect x="1642" y="615" width="1" height="1" fill="#000"/>
<rect x="1642" y="726" width="1" height="1" fill="#000"/>
 <line x1="6" y1="752.5" x2="1641" y2="752.5" stroke="#000" stroke-width="1" stroke-dasharray="3,3"/>
 <line x1="6" y1="784.5" x2="1641" y2="784.5" stroke="#000" stroke-width="1" stroke-dasharray="3,3"/>
 <line x1="6" y1="822.5" x2="1641" y2="822.5" stroke="#000" stroke-width="1" stroke-dasharray="3,3"/>
<polyline points="5,781.1 5.5,781.5 21.5,784 37.5,783.75 53.5,780 69.5,780 85.5,784 101.5,781.5 117.5,776 133.5,777.25 149.5,783.25 165.5,779.75 181.5,785.25 197.5,773.5 213.5,778.25 229.5,780 245.5,779.75 261.5,777.5 277.5,774.5 293.5,770.5 309.5,767.75 325.5,768.75 341.5,768.5 357.5,767.75 373.5,766.5 389.5,784.75 405.5,785 421.5,786.5 437.5,786.5 453.5,786.75 469.5,791 485.5,788.5 501.5,779.75 517.5,779.75 533.5,780.75 549.5,778.75 565.5,779.75 581.5,779.75 597.5,781.5 613.5,781.75 629.5,787.25 645.5,792.75 661.5,792.75 677.5,803 693.5,803 709.5,803 725.5,803 741.5,807.25 757.5,797 773.5,797 789.5,794 805.5,791.75 821.5,819 837.5,820 853.5,820 869.5,822.75 885.5,816.5 901.5,811 917.5,811 933.5,811 949.5,814.75 965.5,811.75 981.5,811.75 997.5,810.25 1013.5,809.75 1029.5,807.75 1045.5,811.75 1061.5,811.75 1077.5,809.25 1093.5,808.5 1109.5,801.75 1125.5,801.5 1141.5,798 1157.5,798 1173.5,799 1189.5,793 1205.5,790.25 1221.5,789.75 1237.5,792.6 1253.5,793.2 1269.5,790 1285.5,790" fill="none" stroke="#1e90ff" stroke-width="2" shape-rendering="crispEdges"/>
<rect x="1642" y="731" width="1" height="1" fill="#000"/>
<rect x="1642" y="838" width="2" height="1" fill="#000"/>
<rect x="5" y="840" width="1" height="3" fill="#000"/>
<rect x="69" y="840" width="1" height="3" fill="#000"/>
<rect x="133" y="840" width="1" height="3" fill="#000"/>
<rect x="197" y="840" width="1" height="3" fill="#000"/>
<rect x="261" y="840" width="1" height="3" fill="#000"/>
<rect x="325" y="840" width="1" height="3" fill="#000"/>
<rect x="389" y="840" width="1" height="3" fill="#000"/>
<rect x="453" y="840" width="1" height="3" fill="#000"/>
<rect x="517" y="840" width="1" height="3" fill="#000"/>
<rect x="581" y="840" width="1" height="3" fill="#000"/>
<rect x="645" y="840" width="1" height="3" fill="#000"/>
<rect x="709" y="840" width="1" height="3" fill="#000"/>
<rect x="773" y="840" width="1" height="3" fill="#000"/>
<rect x="837" y="840" width="1" height="3" fill="#000"/>
<rect x="901" y="840" width="1" height="3" fill="#000"/>
<rect x="965" y="840" width="1" height="3" fill="#000"/>
<rect x="1029" y="840" width="1" height="3" fill="#000"/>
<rect x="1093" y="840" width="1" height="3" fill="#000"/>
<rect x="1157" y="840" width="1" height="3" fill="#000"/>
<rect x="1221" y="840" width="1" height="3" fill="#000"/>
<rect x="1285" y="840" width="1" height="3" fill="#000"/>
<rect x="1643" y="430" width="41" height="11" fill="#ff0000"/>
<rect x="1643" y="459" width="41" height="11" fill="#ff0000"/>
<rect x="1643" y="494" width="41" height="11" fill="#000"/>
<rect x="1643" y="510" width="41" height="11" fill="#ff8c00"/>
<rect x="1643" y="543" width="41" height="11" fill="#0000ff"/>
<rect x="1643" y="570" width="41" height="11" fill="#0000ff"/>
</svg>
<div class="t c" style="left:1646.3px;top:430.84px;font-size:10px;color:#fff;transform:scaleX(0.93);">161.768</div>
<div class="t c" style="left:1646.3px;top:459.84px;font-size:10px;color:#fff;transform:scaleX(0.93);">161.195</div>
<div class="t c" style="left:1646.3px;top:494.84px;font-size:10px;color:#fff;transform:scaleX(0.93);">160.518</div>
<div class="t c" style="left:1646.3px;top:510.84px;font-size:10px;color:#fff;transform:scaleX(0.93);">160.187</div>
<div class="t c" style="left:1646.3px;top:543.83px;font-size:10px;color:#fff;transform:scaleX(0.93);">159.535</div>
<div class="t c" style="left:1646.3px;top:570.83px;font-size:10px;color:#fff;transform:scaleX(0.93);">159.002</div>
<svg id="tb" style="position:absolute;left:0;top:0" width="1689" height="24" viewBox="0 0 1689 24">
<defs><pattern id="dith" width="2" height="2" patternUnits="userSpaceOnUse"><rect width="2" height="2" fill="#fff"/><rect width="1" height="1" fill="#f0f0f0"/><rect x="1" y="1" width="1" height="1" fill="#f0f0f0"/></pattern><linearGradient id="gplus" x1="0" y1="0" x2="0" y2="1"><stop offset="0" stop-color="#7dff7d"/><stop offset="0.5" stop-color="#22d022"/><stop offset="1" stop-color="#079a07"/></linearGradient><linearGradient id="gbook" x1="0" y1="0" x2="1" y2="1"><stop offset="0" stop-color="#f8e040"/><stop offset="0.5" stop-color="#f0c020"/><stop offset="1" stop-color="#e0a010"/></linearGradient><linearGradient id="gblue" x1="0" y1="0" x2="0" y2="1"><stop offset="0" stop-color="#5aa8f0"/><stop offset="1" stop-color="#1450b0"/></linearGradient><linearGradient id="ggreen" x1="0" y1="0" x2="0" y2="1"><stop offset="0" stop-color="#58b828"/><stop offset="1" stop-color="#2a8a10"/></linearGradient><radialGradient id="gred" cx="0.4" cy="0.3" r="0.8"><stop offset="0" stop-color="#f05a40"/><stop offset="1" stop-color="#d01808"/></radialGradient></defs>
<rect x="2" y="1" width="1" height="21" fill="#a0a0a0" shape-rendering="crispEdges"/>
<path d="M12.5,4.5 h7 l4,4 v9 h-11 z" fill="#fff" stroke="#747474" stroke-width="1.1"/>
<path d="M19.5,4.5 v4 h4" fill="#e0e0e0" stroke="#8a8a8a" stroke-width="0.8"/>
<g stroke="#707070" stroke-width="1" shape-rendering="crispEdges"><line x1="14" y1="7.5" x2="17" y2="7.5"/><line x1="14" y1="10.5" x2="20" y2="10.5"/><line x1="14" y1="12.5" x2="19" y2="12.5"/><line x1="14" y1="14.5" x2="17" y2="14.5"/></g>
<path d="M20.2,10.4 h3.8 v3.7 h3.7 v3.8 h-3.7 v3.7 h-3.8 v-3.7 h-3.7 v-3.8 h3.7 z" fill="url(#gplus)" stroke="#078a07" stroke-width="1" stroke-linejoin="miter"/>
<path d="M84.3,5.2 L94.2,11.4 L94.8,14.5 L86.8,19.7 L79.1,13.9 Q82.8,9.6 84.3,5.2 Z" fill="#d8c888" stroke="#8f5c0a" stroke-width="1.1" stroke-linejoin="round"/>
<path d="M84.3,5.2 L94.2,11.4 L86.6,17.6 L80.6,12.4 Q83,9 84.3,5.2 Z" fill="url(#gbook)"/>
<path d="M80.6,12.4 L86.6,17.6 L86.8,19.5 L79.3,13.9 Z" fill="#f0cc58"/>
<path d="M86.6,17.6 L94.2,11.4" fill="none" stroke="#a06a10" stroke-width="0.7"/>
<path d="M109.1,4.6 L115.7,4 L119.7,6.6 L112.3,7.1 Z" fill="#2a7ae0"/>
<path d="M109.1,4.6 L112.3,7.1 V13 H109.1 Z" fill="#0a8cf0"/>
<path d="M112.3,7.1 L119.7,6.6 V13 H112.3 Z" fill="#30a8ff"/>
<path d="M112.3,7.1 V13" stroke="#c8e8ff" stroke-width="0.5"/>
<rect x="114.2" y="8.4" width="4.6" height="1.4" fill="#e8f6ff"/>
<linearGradient id="gcloud" x1="0" y1="0" x2="0" y2="1"><stop offset="0" stop-color="#ffffff"/><stop offset="0.5" stop-color="#f0f4fa"/><stop offset="1" stop-color="#b8c4dc"/></linearGradient>
<path d="M109.3,19.6 C106.5,19.6 106.3,15.2 109.6,14.6 C110,12.6 112.2,12.4 113,13.3 C114.2,11.4 117.6,11.6 118.2,13.8 C119.4,12.6 121.6,13.4 121.4,15 C123.8,15.4 123.6,19.6 121,19.6 Z" fill="url(#gcloud)" stroke="#34548f" stroke-width="1.1"/>
<linearGradient id="gsweep" x1="0" y1="1" x2="0.6" y2="0"><stop offset="0" stop-color="#1fa01f" stop-opacity="1"/><stop offset="0.55" stop-color="#7cc07c" stop-opacity="0.85"/><stop offset="1" stop-color="#cfe4cf" stop-opacity="0.6"/></linearGradient>
<g fill="none"><circle cx="143.1" cy="11.9" r="7.5" stroke="#5a7ed4" stroke-width="1.2" stroke-opacity="0.55"/><circle cx="143.1" cy="11.9" r="4.7" stroke="#6a8cdc" stroke-width="1.1" stroke-opacity="0.55"/><path d="M135.6,11.9 a7.5,7.5 0 0 1 2.2,-5.3" stroke="#2a55c8" stroke-width="1.3"/><path d="M135.6,11.9 a7.5,7.5 0 0 0 2.2,5.3" stroke="#2a55c8" stroke-width="1.3"/></g>
<path d="M143.3,11.9 L143.6,19.9 A8.1,8.1 0 0 0 150.4,8.4 Z" fill="url(#gsweep)"/>
<circle cx="143" cy="11.7" r="2" fill="#2a58d0"/><rect x="143.2" y="12" width="1.4" height="7.8" fill="#18a018"/>
<linearGradient id="gyel" x1="0" y1="0" x2="0.5" y2="1"><stop offset="0" stop-color="#f8d030"/><stop offset="0.6" stop-color="#fff080"/><stop offset="1" stop-color="#f0c020"/></linearGradient>
<path d="M162.2,11.4 L178,10.5 L172.5,19.7 L169.5,19.5 Z" fill="url(#gyel)" stroke="#d0a010" stroke-width="0.7"/>
<ellipse cx="170" cy="8.8" rx="7.9" ry="2.6" fill="#58ace4" stroke="#2a86b8" stroke-width="0.8"/>
<path d="M166.2,8.4 Q166.6,4 170,4 Q173.4,4 173.8,8.4 Q170,9.8 166.2,8.4 Z" fill="#7cc4f0" stroke="#2a86b8" stroke-width="0.7"/>
<circle cx="174.6" cy="15.7" r="4.3" fill="url(#gred)" stroke="#c01800" stroke-width="0.5"/><rect x="173.2" y="14.3" width="2.8" height="2.8" fill="#fff"/>
<rect x="238" y="0" width="1" height="24" fill="#a0a0a0" shape-rendering="crispEdges"/><rect x="239" y="0" width="1" height="24" fill="#fff" shape-rendering="crispEdges"/>
<rect x="242" y="2" width="3" height="1" fill="#a0a0a0" shape-rendering="crispEdges"/>
<rect x="242" y="4" width="3" height="1" fill="#a0a0a0" shape-rendering="crispEdges"/>
<rect x="242" y="6" width="3" height="1" fill="#a0a0a0" shape-rendering="crispEdges"/>
<rect x="242" y="8" width="3" height="1" fill="#a0a0a0" shape-rendering="crispEdges"/>
<rect x="242" y="10" width="3" height="1" fill="#a0a0a0" shape-rendering="crispEdges"/>
<rect x="242" y="12" width="3" height="1" fill="#a0a0a0" shape-rendering="crispEdges"/>
<rect x="242" y="14" width="3" height="1" fill="#a0a0a0" shape-rendering="crispEdges"/>
<rect x="242" y="16" width="3" height="1" fill="#a0a0a0" shape-rendering="crispEdges"/>
<rect x="242" y="18" width="3" height="1" fill="#a0a0a0" shape-rendering="crispEdges"/>
<rect x="242" y="20" width="3" height="1" fill="#a0a0a0" shape-rendering="crispEdges"/>
<g stroke="#505050" stroke-width="1.3" fill="#505050"><line x1="256.4" y1="7" x2="256.4" y2="20"/><line x1="253.39999999999998" y1="17.5" x2="266.4" y2="17.5"/><polygon points="254.39999999999998,8.5 258.4,8.5 256.4,5.8" stroke="none"/><polygon points="265.9,15.5 265.9,19.5 268.4,17.5" stroke="none"/></g>
<g stroke="#10a020" stroke-width="1.5" fill="none"><path d="M262.7,7.5 V15.2 M262.7,8 H265 M260,14.6 H262.7"/></g>
<g shape-rendering="crispEdges"><rect x="276" y="0" width="25" height="22" fill="url(#dith)"/><rect x="276" y="0" width="25" height="1" fill="#a0a0a0"/><rect x="276" y="0" width="1" height="22" fill="#a0a0a0"/><rect x="301" y="0" width="1" height="23" fill="#fff"/><rect x="276" y="22" width="26" height="1" fill="#fff"/></g>
<g stroke="#505050" stroke-width="1.3" fill="#505050"><line x1="284.5" y1="7" x2="284.5" y2="20"/><line x1="281.5" y1="17.5" x2="294.5" y2="17.5"/><polygon points="282.5,8.5 286.5,8.5 284.5,5.8" stroke="none"/><polygon points="294.0,15.5 294.0,19.5 296.5,17.5" stroke="none"/></g>
<line x1="290.5" y1="4" x2="290.5" y2="16" stroke="#0a9a1a" stroke-width="1.3"/><rect x="288.2" y="6.6" width="4.6" height="7.2" fill="#30e050" stroke="#0a9a1a" stroke-width="0.9"/>
<g stroke="#505050" stroke-width="1.3" fill="#505050"><line x1="312.3" y1="7" x2="312.3" y2="20"/><line x1="309.3" y1="17.5" x2="322.3" y2="17.5"/><polygon points="310.3,8.5 314.3,8.5 312.3,5.8" stroke="none"/><polygon points="321.8,15.5 321.8,19.5 324.3,17.5" stroke="none"/></g>
<path d="M311,14.6 Q315,9 317.2,9.2 Q319,9.4 322.7,13.4" fill="none" stroke="#1a9a2a" stroke-width="1.3"/>
<rect x="333" y="1" width="1" height="21" fill="#a0a0a0" shape-rendering="crispEdges"/>
<line x1="351.7" y1="14" x2="357.0" y2="18.6" stroke="#a88410" stroke-width="3.2" stroke-linecap="round"/><line x1="351.9" y1="14" x2="356.8" y2="18.2" stroke="#f0d050" stroke-width="1.6" stroke-linecap="round"/>
<circle cx="347.7" cy="10" r="5.4" fill="#d8ecfc" stroke="#3a7ad8" stroke-width="1.3"/>
<rect x="344.7" y="9.1" width="6" height="1.8" fill="#3a78b8"/>
<rect x="346.8" y="7" width="1.8" height="6" fill="#3a78b8"/>
<line x1="380.2" y1="13.8" x2="385.5" y2="18.4" stroke="#a88410" stroke-width="3.2" stroke-linecap="round"/><line x1="380.4" y1="13.8" x2="385.3" y2="18.0" stroke="#f0d050" stroke-width="1.6" stroke-linecap="round"/>
<circle cx="376.2" cy="9.8" r="5.4" fill="#d8ecfc" stroke="#3a7ad8" stroke-width="1.3"/>
<rect x="373.2" y="8.9" width="6" height="1.8" fill="#3a78b8"/>
<rect x="398" y="4" width="7.6" height="7.6" fill="url(#ggreen)"/><rect x="399.2" y="7" width="5.4" height="3.6" fill="#fff"/><rect x="400.2" y="8.2" width="3.4" height="0.9" fill="#9ad080"/><rect x="399" y="5" width="1" height="1" fill="#fff" opacity="0.8"/>
<rect x="406" y="4" width="7.6" height="7.6" fill="url(#gblue)"/><rect x="407.2" y="7" width="5.4" height="3.6" fill="#fff"/><rect x="408.2" y="8.2" width="3.4" height="0.9" fill="#90b8f0"/><rect x="407" y="5" width="1" height="1" fill="#fff" opacity="0.8"/>
<rect x="398" y="12" width="7.6" height="7.6" fill="url(#gblue)"/><rect x="399.2" y="15" width="5.4" height="3.6" fill="#fff"/><rect x="400.2" y="16.2" width="3.4" height="0.9" fill="#90b8f0"/><rect x="399" y="13" width="1" height="1" fill="#fff" opacity="0.8"/>
<rect x="406" y="12" width="7.6" height="7.6" fill="url(#ggreen)"/><rect x="407.2" y="15" width="5.4" height="3.6" fill="#fff"/><rect x="408.2" y="16.2" width="3.4" height="0.9" fill="#9ad080"/><rect x="407" y="13" width="1" height="1" fill="#fff" opacity="0.8"/>
<rect x="423" y="1" width="1" height="21" fill="#a0a0a0" shape-rendering="crispEdges"/>
<g shape-rendering="crispEdges"><rect x="428" y="0" width="25" height="22" fill="url(#dith)"/><rect x="428" y="0" width="25" height="1" fill="#a0a0a0"/><rect x="428" y="0" width="1" height="22" fill="#a0a0a0"/><rect x="453" y="0" width="1" height="23" fill="#fff"/><rect x="428" y="22" width="26" height="1" fill="#fff"/></g>
<g stroke="#505050" stroke-width="1.3" fill="#505050"><line x1="436.4" y1="7" x2="436.4" y2="20"/><line x1="433.4" y1="17.5" x2="446.4" y2="17.5"/><polygon points="434.4,8.5 438.4,8.5 436.4,5.8" stroke="none"/><polygon points="445.9,15.5 445.9,19.5 448.4,17.5" stroke="none"/></g>
<polygon points="440.8,8.5 440.8,14.6 445,11.5" fill="#50e070" stroke="#10a030" stroke-width="0.9"/>
<g shape-rendering="crispEdges"><rect x="456" y="0" width="25" height="22" fill="url(#dith)"/><rect x="456" y="0" width="25" height="1" fill="#a0a0a0"/><rect x="456" y="0" width="1" height="22" fill="#a0a0a0"/><rect x="481" y="0" width="1" height="23" fill="#fff"/><rect x="456" y="22" width="26" height="1" fill="#fff"/></g>
<g stroke="#505050" stroke-width="1.3" fill="#505050"><line x1="464.2" y1="7" x2="464.2" y2="20"/><line x1="461.2" y1="17.5" x2="474.2" y2="17.5"/><polygon points="462.2,8.5 466.2,8.5 464.2,5.8" stroke="none"/><polygon points="473.7,15.5 473.7,19.5 476.2,17.5" stroke="none"/></g>
<line x1="470.5" y1="6" x2="470.5" y2="16" stroke="#1a78a8" stroke-width="1.3"/>
<path d="M471.3,11.5 L474.2,9 L473.6,11 L476,11.5 L473.6,12 L474.2,14 Z" fill="#e05a10" stroke="#e05a10" stroke-width="0.5"/>
<rect x="485" y="1" width="1" height="21" fill="#a0a0a0" shape-rendering="crispEdges"/>
<path d="M495.5,4.5 h7 l4,4 v9 h-11 z" fill="#fff" stroke="#747474" stroke-width="1.1"/>
<path d="M502.5,4.5 v4 h4" fill="#e0e0e0" stroke="#8a8a8a" stroke-width="0.8"/>
<path d="M500,7.5 h-1.5 v3 h-1 M498.5,10.5 v4 h1.5" fill="none" stroke="#707070" stroke-width="0.8"/>
<path d="M503.2,10.4 h3.8 v3.7 h3.7 v3.8 h-3.7 v3.7 h-3.8 v-3.7 h-3.7 v-3.8 h3.7 z" fill="url(#gplus)" stroke="#078a07" stroke-width="1" stroke-linejoin="miter"/>
<polygon points="517,11 522,11 519.5,14" fill="#000"/>
<circle cx="541" cy="11.8" r="7" fill="#f4f8ff" stroke="url(#gblue)" stroke-width="2.4"/>
<circle cx="541" cy="11.8" r="8.1" fill="none" stroke="#1858b8" stroke-width="0.5"/>
<path d="M541,7.6 V12 H543.6" fill="none" stroke="#303030" stroke-width="1.1"/>
<polygon points="556,11 561,11 558.5,14" fill="#000"/>
<rect x="572.5" y="5.5" width="15" height="13" fill="#fff" stroke="#2a6ad0" stroke-width="1.2"/><rect x="572.5" y="5.5" width="15" height="2" fill="#6aa8f0" stroke="#2a6ad0" stroke-width="0.6"/><line x1="572.5" y1="13" x2="587.5" y2="13" stroke="#2a6ad0" stroke-width="0.9"/>
<path d="M574.5,11 L577,10.3 L579.5,9.2 L582,10.2 L585.5,9" fill="none" stroke="#a82010" stroke-width="1.2"/>
<path d="M574.5,16.2 L577,15.4 L579,16.3 L582.5,14.4 L585.5,16.4" fill="none" stroke="#1a9a2a" stroke-width="1.2"/>
<polygon points="595,11 600,11 597.5,14" fill="#000"/>
<rect x="606" y="0" width="1" height="24" fill="#a0a0a0" shape-rendering="crispEdges"/><rect x="607" y="0" width="1" height="24" fill="#fff" shape-rendering="crispEdges"/>
<rect x="610" y="2" width="3" height="1" fill="#a0a0a0" shape-rendering="crispEdges"/>
<rect x="610" y="4" width="3" height="1" fill="#a0a0a0" shape-rendering="crispEdges"/>
<rect x="610" y="6" width="3" height="1" fill="#a0a0a0" shape-rendering="crispEdges"/>
<rect x="610" y="8" width="3" height="1" fill="#a0a0a0" shape-rendering="crispEdges"/>
<rect x="610" y="10" width="3" height="1" fill="#a0a0a0" shape-rendering="crispEdges"/>
<rect x="610" y="12" width="3" height="1" fill="#a0a0a0" shape-rendering="crispEdges"/>
<rect x="610" y="14" width="3" height="1" fill="#a0a0a0" shape-rendering="crispEdges"/>
<rect x="610" y="16" width="3" height="1" fill="#a0a0a0" shape-rendering="crispEdges"/>
<rect x="610" y="18" width="3" height="1" fill="#a0a0a0" shape-rendering="crispEdges"/>
<rect x="610" y="20" width="3" height="1" fill="#a0a0a0" shape-rendering="crispEdges"/>
<g shape-rendering="crispEdges"><rect x="616" y="0" width="25" height="22" fill="url(#dith)"/><rect x="616" y="0" width="25" height="1" fill="#a0a0a0"/><rect x="616" y="0" width="1" height="22" fill="#a0a0a0"/><rect x="641" y="0" width="1" height="23" fill="#fff"/><rect x="616" y="22" width="26" height="1" fill="#fff"/></g>
<path d="M624.2,5 V16 L626.8,13.6 L629.3,18.8 L631.2,17.9 L628.8,12.9 L632.2,12.7 Z" fill="#505050"/>
<g stroke="#505050" stroke-width="1.3"><line x1="649" y1="12.3" x2="655" y2="12.3"/><line x1="658" y1="12.3" x2="664" y2="12.3"/><line x1="656.5" y1="5" x2="656.5" y2="10.8"/><line x1="656.5" y1="13.8" x2="656.5" y2="20"/></g>
<rect x="673" y="1" width="1" height="21" fill="#a0a0a0" shape-rendering="crispEdges"/>
<g stroke="#505050" stroke-width="1.3"><line x1="690.4" y1="6" x2="690.4" y2="18.8"/><line x1="713" y1="12.3" x2="725" y2="12.3"/><line x1="740.8" y1="18.8" x2="753" y2="7"/></g>
<g stroke="#505050" stroke-width="1"><line x1="767" y1="13.8" x2="775" y2="6.2"/><line x1="772.3" y1="18.8" x2="780.8" y2="10.4"/><line x1="768" y1="17.5" x2="779" y2="7"/><line x1="770" y1="11.5" x2="770" y2="18"/><line x1="773.5" y1="8.5" x2="773.5" y2="15.5"/><line x1="777" y1="5" x2="777" y2="12.5"/></g>
<text x="777.6" y="20.8" font-size="6.5" font-weight="bold" fill="#404040" font-family="Liberation Sans, sans-serif">E</text>
<line x1="796" y1="5.4" x2="809" y2="5.4" stroke="#505050" stroke-width="1" stroke-dasharray="1,1" shape-rendering="crispEdges"/>
<line x1="796" y1="8" x2="809" y2="8" stroke="#505050" stroke-width="1" stroke-dasharray="1,1" shape-rendering="crispEdges"/>
<line x1="796" y1="12.3" x2="809" y2="12.3" stroke="#505050" stroke-width="1" stroke-dasharray="1,1" shape-rendering="crispEdges"/>
<line x1="796" y1="16.4" x2="804.5" y2="16.4" stroke="#505050" stroke-width="1" stroke-dasharray="1,1" shape-rendering="crispEdges"/>
<text x="805.4" y="20.8" font-size="6.5" font-weight="bold" fill="#404040" font-family="Liberation Sans, sans-serif">F</text>
<text x="826.4" y="17" font-size="12.8" fill="#585858" stroke="#585858" stroke-width="0.45" font-family="Liberation Sans, sans-serif">A</text>
<rect x="853.5" y="6.5" width="11" height="12" fill="none" stroke="#505050" stroke-width="1" stroke-dasharray="1,1" shape-rendering="crispEdges"/>
<text x="855.2" y="16.6" font-size="11" font-weight="bold" fill="#505050" font-family="Liberation Sans, sans-serif">T</text>
<polygon points="883.5,6 887,8.8 883.5,10.4 880,8.8" fill="#505050"/><polygon points="890.4,18.8 893.8,15.5 890.4,14.2 887,15.5" fill="#505050"/>
<path d="M882,13.2 L884.6,15.4 L888.8,10.6" fill="none" stroke="#505050" stroke-width="1.4"/>
<polygon points="901,11 906,11 903.5,14" fill="#000"/>
<rect x="912" y="0" width="1" height="24" fill="#a0a0a0" shape-rendering="crispEdges"/><rect x="913" y="0" width="1" height="24" fill="#fff" shape-rendering="crispEdges"/>
<rect x="916" y="2" width="3" height="1" fill="#a0a0a0" shape-rendering="crispEdges"/>
<rect x="916" y="4" width="3" height="1" fill="#a0a0a0" shape-rendering="crispEdges"/>
<rect x="916" y="6" width="3" height="1" fill="#a0a0a0" shape-rendering="crispEdges"/>
<rect x="916" y="8" width="3" height="1" fill="#a0a0a0" shape-rendering="crispEdges"/>
<rect x="916" y="10" width="3" height="1" fill="#a0a0a0" shape-rendering="crispEdges"/>
<rect x="916" y="12" width="3" height="1" fill="#a0a0a0" shape-rendering="crispEdges"/>
<rect x="916" y="14" width="3" height="1" fill="#a0a0a0" shape-rendering="crispEdges"/>
<rect x="916" y="16" width="3" height="1" fill="#a0a0a0" shape-rendering="crispEdges"/>
<rect x="916" y="18" width="3" height="1" fill="#a0a0a0" shape-rendering="crispEdges"/>
<rect x="916" y="20" width="3" height="1" fill="#a0a0a0" shape-rendering="crispEdges"/>
<g shape-rendering="crispEdges"><rect x="1062" y="0" width="25" height="22" fill="url(#dith)"/><rect x="1062" y="0" width="25" height="1" fill="#a0a0a0"/><rect x="1062" y="0" width="1" height="22" fill="#a0a0a0"/><rect x="1087" y="0" width="1" height="23" fill="#fff"/><rect x="1062" y="22" width="26" height="1" fill="#fff"/></g>
<rect x="1173" y="1" width="1" height="21" fill="#a0a0a0" shape-rendering="crispEdges"/>
<circle cx="1643.6" cy="10" r="4.2" fill="#e8f0fc" stroke="#3a6fd0" stroke-width="1.6"/><line x1="1640.6" y1="13" x2="1636.2" y2="17.2" stroke="#3a6fd0" stroke-width="2.2" stroke-linecap="round"/>
<path d="M1662,11 a5,4.4 0 0 1 10,2 a5,4.4 0 0 1 -5,4.4 l-3,2.6 l0.5,-3 a5,4.4 0 0 1 -2.5,-6 z" fill="#e8e8e8" stroke="#b8b8b8" stroke-width="0.8"/>
<circle cx="1674" cy="9.6" r="8.6" fill="url(#gred)"/>
<text x="1670.6" y="14" font-size="12.5" fill="#fff" font-family="Liberation Sans, sans-serif">1</text>
</svg>
<div class="t" style="left:30.8px;top:4.6px;font-size:12px;line-height:14px;height:14px;color:#000">新订单</div>
<div class="t" style="left:183.6px;top:4.6px;font-size:12px;line-height:14px;height:14px;color:#000">自动交易</div>
<div class="t g" style="left:928.0px;top:7.84px;font-size:10px;transform:scaleX(0.93);color:#383838">M1</div>
<div class="t g" style="left:955.5px;top:7.84px;font-size:10px;transform:scaleX(0.93);color:#383838">M5</div>
<div class="t g" style="left:982.0px;top:7.84px;font-size:10px;transform:scaleX(0.93);color:#383838">M15</div>
<div class="t g" style="left:1009.5px;top:7.84px;font-size:10px;transform:scaleX(0.93);color:#383838">M30</div>
<div class="t g" style="left:1041.0px;top:7.84px;font-size:10px;transform:scaleX(0.93);color:#383838">H1</div>
<div class="t g" style="left:1068.0px;top:7.84px;font-size:10px;transform:scaleX(0.93);color:#383838">H4</div>
<div class="t g" style="left:1097.0px;top:7.84px;font-size:10px;transform:scaleX(0.93);color:#383838">D1</div>
<div class="t g" style="left:1124.0px;top:7.84px;font-size:10px;transform:scaleX(0.93);color:#383838">W1</div>
<div class="t g" style="left:1151.0px;top:7.84px;font-size:10px;transform:scaleX(0.93);color:#383838">MN</div>
</body></html>
